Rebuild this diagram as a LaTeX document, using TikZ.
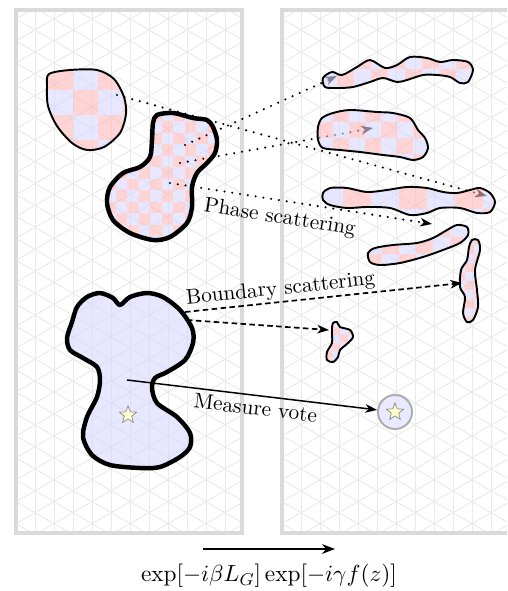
\documentclass[tikz,border=0pt]{standalone}
\usepackage{amsmath}
\usepackage{amssymb}
\usepackage{tikz}
\usetikzlibrary{arrows.meta,shapes.geometric}

\definecolor{chkpink}{RGB}{255,183,183}
\definecolor{chklav}{RGB}{215,215,255}
\definecolor{panelgray}{RGB}{218,218,218}
\definecolor{gridgray}{RGB}{234,234,234}
\definecolor{starfill}{RGB}{255,255,204}

% checkerboard: x0, y0, cell, nx, ny
\newcommand{\checkers}[5]{%
  \foreach \i in {0,...,#4}{%
    \foreach \j in {0,...,#5}{%
      \ifodd\numexpr\i+\j\relax
        \fill[chklav] ({#1+\i*#3},{#2+\j*#3}) rectangle ++(#3,#3);
      \else
        \fill[chkpink] ({#1+\i*#3},{#2+\j*#3}) rectangle ++(#3,#3);
      \fi
    }}}

% isometric grid panel: left x, right x
\newcommand{\gridpanel}[2]{%
  \begin{scope}
    \clip (#1,10) rectangle (#2,533);
    \foreach \k in {1,...,12} \draw[gridline] ({#1+\k*19},10) -- ++(0,523);
    \foreach \n in {-7,...,31}{%
      \draw[gridline] (#1,{19+\n*21.94}) -- ++(240,138.56);
      \draw[gridline] (#1,{19+\n*21.94}) -- ++(240,-138.56);
    }
  \end{scope}
  \draw[panelframe] (#1,10) rectangle (#2,533);}

% blob outlines
\def\blobA{plot[smooth cycle] coordinates {(49,74) (70,70) (97,70) (114,79) (124,97) (126,114) (120,133) (104,147) (87,150) (72,143) (57,126) (48,106) (47,86)}}
\def\blobB{plot[smooth cycle] coordinates {(157,115) (173,113) (193,118) (207,120) (213,127) (217,140) (215,153) (207,163) (197,173) (192,187) (192,207) (187,223) (170,237) (153,240) (130,233) (113,220) (107,203) (110,187) (123,173) (140,167) (150,157) (152,140) (153,123)}}
\def\blobC{plot[smooth cycle] coordinates {(77,307) (87,297) (100,293) (113,298) (120,305) (130,297) (147,293) (163,297) (180,310) (192,328) (193,343) (185,360) (167,372) (155,378) (152,388) (157,403) (177,417) (190,433) (190,447) (180,457) (160,467) (140,468) (110,465) (92,455) (83,437) (87,417) (97,397) (100,380) (97,367) (83,358) (70,350) (67,338) (72,322)}}
\def\wormA{plot[smooth cycle] coordinates {(323,78) (332,72) (342,75) (357,67) (370,60) (385,68) (397,65) (410,57) (427,58) (440,62) (453,60) (468,62) (473,70) (468,82) (460,83) (450,77) (437,75) (423,75) (407,80) (397,82) (383,78) (370,82) (353,87) (337,88) (325,87)}}
\def\lumpA{plot[smooth cycle] coordinates {(322,118) (333,113) (350,110) (377,112) (393,113) (410,118) (418,130) (425,138) (428,148) (423,157) (413,160) (400,157) (383,155) (360,152) (340,150) (323,148) (318,140) (318,127)}}
\def\wormB{plot[smooth cycle] coordinates {(323,193) (330,188) (347,188) (367,192) (387,190) (407,187) (427,188) (443,192) (457,193) (470,190) (480,188) (490,193) (495,202) (490,212) (477,213) (460,208) (440,208) (427,213) (410,215) (390,208) (367,207) (347,208) (330,205) (323,200)}}
\def\wormC{plot[smooth cycle] coordinates {(368,253) (375,248) (393,245) (417,243) (433,238) (447,230) (457,225) (467,227) (468,235) (460,243) (443,250) (423,257) (400,263) (380,265) (370,262)}}
\def\wormD{plot[smooth cycle] coordinates {(472,240) (478,240) (480,250) (475,270) (477,290) (478,307) (473,320) (467,322) (463,313) (465,297) (460,287) (461,270) (467,260) (469,247)}}
\def\lumpB{plot[smooth cycle] coordinates {(333,323) (337,322) (340,327) (350,330) (353,337) (348,343) (340,350) (338,357) (333,362) (327,360) (327,352) (332,343) (332,335) (332,328)}}

\begin{document}
\begin{tikzpicture}[x=0.47pt,y=-0.47pt,
  gridline/.style={gridgray,line width=0.45pt},
  panelframe/.style={panelgray,line width=1.8pt},
  thinblob/.style={line width=0.9pt,line join=round},
  fatblob/.style={line width=2.1pt,line join=round},
  tip/.style={-{Stealth[length=5.5pt,width=4pt,inset=1.6pt]}},
  phasearrow/.style={tip,line width=1.1pt,dash pattern=on 0pt off 3.7pt,line cap=round},
  boundarrow/.style={tip,line width=0.8pt,dash pattern=on 2.6pt off 1.6pt},
  votearrow/.style={tip,line width=0.7pt},
  starnode/.style={star,star points=5,star point ratio=2.3,minimum size=8.5pt,inner sep=0pt,fill=starfill,draw=gray,line width=0.3pt}]
\clip (0,0) rectangle (507,591);

% the two panels
\gridpanel{16}{242}
\gridpanel{282}{510}

% left side
\begin{scope}[fill opacity=0.6]
  \clip \blobA;
  \checkers{48}{65}{25}{3}{3}
\end{scope}
\draw[thinblob] \blobA;
\begin{scope}[fill opacity=0.6]
  \clip \blobB;
  \checkers{104}{110}{11.5}{10}{12}
\end{scope}
\draw[fatblob] \blobB;
\fill[chklav,fill opacity=0.6] \blobC;
\draw[fatblob] \blobC;
\node[starnode] (starC) at (128,415) {};

% end points
\coordinate (pA) at (117,95);
\coordinate (pB1) at (185,145);
\coordinate (pB2) at (180,163);
\coordinate (pB3) at (170,183);
\coordinate (pC1) at (185,312);
\coordinate (pC2) at (187,320);
\coordinate (pC3) at (127,380);
\coordinate (qWormA) at (337,76);
\coordinate (qLumpA) at (373,128);
\coordinate (qWormB) at (487,196);
\coordinate (qFree) at (432,224);
\coordinate (qWormD) at (462,283);
\coordinate (qLumpB) at (329,330);
\node[circle,minimum size=16pt,fill=chklav!55,draw=gray!65,line width=0.9pt] (vote) at (395,412) {};
\node[starnode] (starV) at (vote) {};

% phase scattering
\draw[phasearrow] (pA) -- (qWormB);
\draw[phasearrow] (pB1) -- (qWormA);
\draw[phasearrow] (pB2) -- (qLumpA);
\draw[phasearrow] (pB3) -- (qFree) node[pos=0.43,sloped,below] (lblPhase) {Phase scattering};

% boundary scattering
\draw[boundarrow] (pC1) -- (qWormD) node[pos=0.35,sloped,above,inner sep=1pt] (lblBound) {Boundary scattering};
\draw[boundarrow] (pC2) -- (qLumpB);

% measure vote
\draw[votearrow] (pC3) -- (vote) node[pos=0.52,sloped,below,inner sep=2pt] (lblVote) {Measure vote};

% right side
\begin{scope}[fill opacity=0.6]
  \clip \wormA;
  \checkers{320}{52}{17}{9}{2}
\end{scope}
\draw[thinblob] \wormA;
\begin{scope}[fill opacity=0.6]
  \clip \lumpA;
  \checkers{301}{106}{16}{8}{3}
\end{scope}
\draw[thinblob] \lumpA;
\begin{scope}[fill opacity=0.6]
  \clip \wormB;
  \checkers{287}{181}{28}{8}{1}
\end{scope}
\draw[thinblob] \wormB;
\begin{scope}[fill opacity=0.6]
  \clip \wormC;
  \checkers{365}{220}{17}{6}{3}
\end{scope}
\draw[thinblob] \wormC;
\begin{scope}[fill opacity=0.6]
  \clip \wormD;
  \checkers{456}{236}{9}{3}{10}
\end{scope}
\draw[thinblob] \wormD;
\begin{scope}[fill opacity=0.6]
  \clip \lumpB;
  \checkers{324}{319}{8}{4}{6}
\end{scope}
\draw[thinblob] \lumpB;

% time step
\coordinate (gL) at (203,549);
\coordinate (gR) at (335,549);
\draw[-{Stealth[length=6pt,width=4.5pt,inset=1.8pt]},line width=1.4pt] (gL) -- (gR) node[midway,below=3pt] (lblStep) {\fontsize{11.4pt}{14pt}\selectfont $\exp[-i\beta L_G]\exp[-i\gamma f(z)]$};
\end{tikzpicture}
\end{document}
